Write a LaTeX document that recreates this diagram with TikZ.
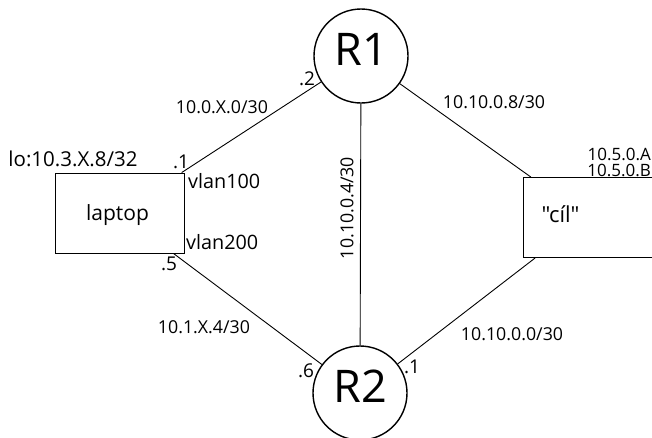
\documentclass[tikz,border=0pt]{standalone}
\usepackage{fontspec}
\setmainfont{Open Sans}[Ligatures=TeXOff]
\begin{document}
\begin{tikzpicture}[x=1pt,y=-1pt,
  router/.style={draw,circle,line width=1.4pt,minimum size=94pt,inner sep=0pt,
    font=\fontsize{45}{50}\selectfont,text depth=13pt},
  device/.style={draw,rectangle,line width=0.9pt,minimum width=129pt,minimum height=80pt,inner sep=0pt},
  link/.style={line width=0.9pt},
  lbl/.style={inner sep=0pt,font=\fontsize{17.8}{20}\selectfont,anchor=base},
  dot/.style={lbl,font=\fontsize{19}{20}\selectfont}]
\useasboundingbox (0,0) rectangle (652,437);
\node[router] (R1) at (361,56) {R1};
\node[router] (R2) at (360,393) {R2};
\node[device] (laptop) at (119.5,213) {};
\node[device] (cil) at (587.5,217.5) {};
\node[lbl,font=\fontsize{21}{24}\selectfont] (laptoptxt) at (117.5,220) {laptop};
\node[lbl,font=\fontsize{22}{24}\selectfont] (ciltxt) at (560.5,222.5) {"cíl"};
\draw[link] (laptop) -- (R1);
\draw[link] (laptop) -- (R2);
\draw[link] (R1) -- (R2);
\draw[link] (cil) -- (R1);
\draw[link] (cil) -- (R2);
\node[lbl] (n1) at (222,113) {10.0.X.0/30};
\node[dot] (n2) at (307,85) {.2};
\node[lbl] (n3) at (494,108) {10.10.0.8/30};
\node[lbl,anchor=base east,font=\fontsize{17}{20}\selectfont] (n4) at (651,160) {10.5.0.A};
\node[lbl,anchor=base east,font=\fontsize{17}{20}\selectfont] (n5) at (651,176) {10.5.0.B};
\node[lbl,font=\fontsize{20.5}{22}\selectfont] (n6) at (73,166) {lo:10.3.X.8/32};
\node[dot] (n7) at (181,168) {.1};
\node[lbl,anchor=base west,font=\fontsize{19.8}{22}\selectfont] (n8) at (188,188) {vlan100};
\node[lbl,anchor=base west,font=\fontsize{19.8}{22}\selectfont] (n9) at (186,249) {vlan200};
\node[dot] (n10) at (169,270) {.5};
\node[lbl] (n11) at (204,333) {10.1.X.4/30};
\node[dot] (n12) at (306,377) {.6};
\node[dot] (n13) at (412,373) {.1};
\node[lbl] (n14) at (512,340) {10.10.0.0/30};
\node[lbl,rotate=90,anchor=center] (n15) at (347,208) {10.10.0.4/30};
\end{tikzpicture}
\end{document}
